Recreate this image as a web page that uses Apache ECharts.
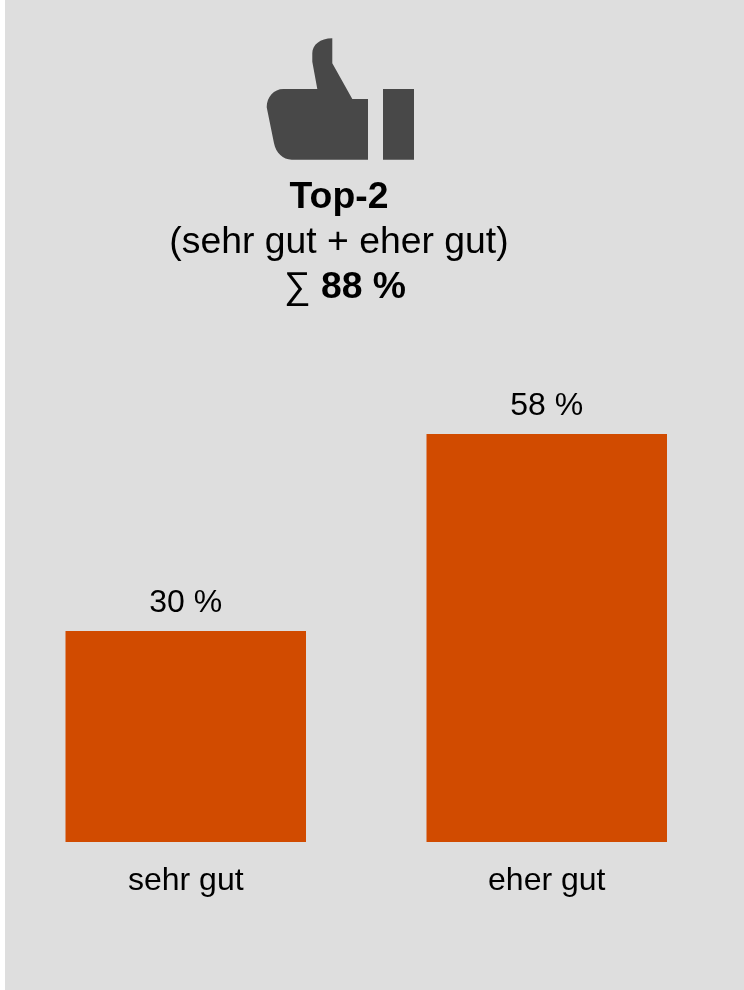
<!DOCTYPE html>
<html><head><meta charset="utf-8">
<style>html,body{margin:0;padding:0;background:#fff}#c{width:744px;height:990px}</style>
<script src="https://cdn.jsdelivr.net/npm/echarts@6/dist/echarts.min.js"></script>
</head><body><div id="c"></div>
<script>
const categories = ['sehr gut', 'eher gut'];
const values = [30, 58];
const headTitle = 'Top-2';
const headSub = '(sehr gut + eher gut)';
const headSum = '88 %';
const FONT = '"Liberation Sans", Arial, sans-serif';
const thumb = 'M332.3 38.3 L332.3 63.3 L352.3 99 L368 99 L368 159.7 L291.7 159.7 C283 159.7 276 153 274 143.3 L266.7 107.3 C266.7 97 274 89 283.3 89 L317.3 89 L312.3 61.7 L312.3 53.3 C312.3 45 320 38.3 332.3 38.3 Z M383 89 L414 89 L414 159.7 L383 159.7 Z';
const chart = echarts.init(document.getElementById('c'), null, {renderer:'canvas'});
chart.setOption({
  animation:false,
  backgroundColor:'#ffffff',
  grid:{left:5.25,width:722,top:420,height:422,containLabel:false},
  xAxis:{type:'category',data:categories,axisLine:{show:false},axisTick:{show:false},
    axisLabel:{color:'#000',fontFamily:FONT,fontSize:32,margin:23,interval:0}},
  yAxis:{type:'value',min:0,max:60,show:false,splitLine:{show:false}},
  series:[
    {type:'bar',data:values,barWidth:240.5,itemStyle:{color:'#d14b00'},z:3,
      label:{show:true,position:'top',distance:12,color:'#000',fontFamily:FONT,fontSize:32,formatter:p=>p.value+' %'}},
    {type:'custom',coordinateSystem:'none',data:[0],silent:true,z:4,
      renderItem:()=>({type:'path',shape:{pathData:thumb,layout:'cover',x:266.7,y:38.3,width:147.3,height:121.4},style:{fill:'#484848'}})}
  ],
  graphic:[
    {type:'rect',z:-1,silent:true,shape:{x:5,y:0,width:739,height:990},style:{fill:'#dedede'}},
    {type:'text',z:2,silent:true,x:339,y:198,style:{text:headTitle,fontFamily:FONT,fontSize:37.33,fontWeight:'bold',fill:'#000',align:'center',verticalAlign:'middle'}},
    {type:'text',z:2,silent:true,x:339,y:243,style:{text:headSub,fontFamily:FONT,fontSize:37.33,fill:'#000',align:'center',verticalAlign:'middle'}},
    {type:'text',z:2,silent:true,x:345,y:288,style:{rich:{a:{fontFamily:FONT,fontSize:37.33,fill:'#000'},b:{fontFamily:FONT,fontSize:37.33,fontWeight:'bold',fill:'#000'}},text:'{a|∑} {b|'+headSum+'}',fontFamily:FONT,fontSize:37.33,align:'center',verticalAlign:'middle'}}
  ]
});
</script></body></html>
